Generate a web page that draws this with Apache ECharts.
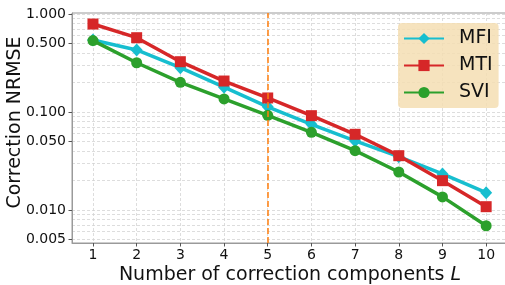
<!DOCTYPE html>
<html>
<head>
    <meta charset="utf-8">
    <title>Correction NRMSE</title>
    <script src="https://cdn.jsdelivr.net/npm/echarts@6/dist/echarts.min.js"></script>
    <style>
        html, body { margin: 0; padding: 0; background: #fff; }
        #chart1 { width: 505px; height: 285px; }
    </style>
</head>
<body>
<div id="chart1"></div>
<script type="text/javascript">
    // 数据
    var components = [1, 2, 3, 4, 5, 6, 7, 8, 9, 10];
    var mfi = [0.543, 0.43, 0.283, 0.179, 0.113, 0.0748, 0.0506, 0.035, 0.0233, 0.0150];
    var mti = [0.79, 0.573, 0.326, 0.207, 0.139, 0.0917, 0.0592, 0.0358, 0.0199, 0.0108];
    var svi = [0.535, 0.318, 0.201, 0.136, 0.0925, 0.062, 0.0403, 0.0244, 0.0136, 0.0069];
    var yLabels = [0.005, 0.01, 0.05, 0.1, 0.5, 1.0];
    var yGrid = [0.005, 0.006, 0.007, 0.008, 0.009,
        0.01, 0.02, 0.03, 0.04, 0.05, 0.06, 0.07, 0.08, 0.09,
        0.1, 0.2, 0.3, 0.4, 0.5, 0.6, 0.7, 0.8, 0.9, 1.0];
    var chosenL = 5;

    var font = 'DejaVu Sans';
    var gridLine = { show: true, lineStyle: { color: '#d4d4d4', type: [3, 2], width: 0.8 } };

    function pairs(vals) {
        return components.map(function (c, i) { return [c, vals[i]]; });
    }

    var myChart1 = echarts.init(document.getElementById('chart1'), null, { renderer: 'canvas' });
    myChart1.setOption({
        animation: false,
        textStyle: { fontFamily: font },
        grid: { left: 72, right: -3, top: 13, bottom: 42, show: true, borderColor: '#9a9a9a', borderWidth: 1,
            containLabel: false, outerBoundsMode: 'none' },
        legend: {
            orient: 'vertical',
            left: 398, top: 23,
            backgroundColor: 'rgba(245,222,179,0.85)',
            borderRadius: 4,
            padding: [6, 6, 6, 5],
            itemWidth: 40, itemHeight: 14, itemGap: 8,
            textStyle: { fontSize: 19, fontFamily: font, color: '#111', padding: [0, 0, 0, 10] },
            data: ['MFI', 'MTI', 'SVI']
        },
        xAxis: {
            type: 'value', min: 0.52, max: 10.5,
            name: 'Number of correction components {i|L}',
            nameLocation: 'middle', nameGap: 23, nameMoveOverlap: false,
            nameTextStyle: { fontSize: 19, color: '#111', fontFamily: font,
                rich: { i: { fontStyle: 'italic', fontSize: 19, fontFamily: font, color: '#111' } } },
            axisLine: { show: true, lineStyle: { color: '#9a9a9a' } },
            axisTick: { show: true, length: 3.5, lineStyle: { color: '#555' }, customValues: components },
            axisLabel: { fontSize: 14, color: '#111', margin: 5, customValues: components },
            splitLine: gridLine
        },
        yAxis: [{
            type: 'log', min: 0.0046, max: 1.024,
            name: 'Correction NRMSE', nameLocation: 'middle', nameGap: 47, nameMoveOverlap: false,
            nameTextStyle: { fontSize: 19, color: '#111', fontFamily: font, padding: [0, 0, 0, 11] },
            axisLine: { show: true, lineStyle: { color: '#9a9a9a' } },
            axisTick: { show: false, customValues: yGrid },
            axisLabel: {
                fontSize: 14, color: '#111', margin: 6, customValues: yLabels,
                formatter: function (v) { return (+v).toFixed(3); }
            },
            splitLine: gridLine
        }, {
            type: 'log', min: 0.0046, max: 1.024, position: 'left',
            axisLine: { show: false },
            axisTick: { show: true, length: 3.5, lineStyle: { color: '#555' }, customValues: yLabels },
            axisLabel: { show: false },
            splitLine: { show: false }
        }],
        series: [{
            name: 'MFI', type: 'line', data: pairs(mfi),
            symbol: 'diamond', symbolSize: [12, 13],
            itemStyle: { color: '#17becf' }, lineStyle: { width: 3.5, color: '#17becf' },
            markLine: {
                silent: true, symbol: 'none', label: { show: false },
                lineStyle: { color: '#ff7f0e', type: [6, 3], width: 1.5 },
                data: [{ xAxis: chosenL }]
            }
        }, {
            name: 'MTI', type: 'line', data: pairs(mti),
            symbol: 'rect', symbolSize: 11,
            itemStyle: { color: '#d62728' }, lineStyle: { width: 3.5, color: '#d62728' }
        }, {
            name: 'SVI', type: 'line', data: pairs(svi),
            symbol: 'circle', symbolSize: 11,
            itemStyle: { color: '#2ca02c' }, lineStyle: { width: 3.5, color: '#2ca02c' }
        }]
    });
</script>
</body>
</html>
